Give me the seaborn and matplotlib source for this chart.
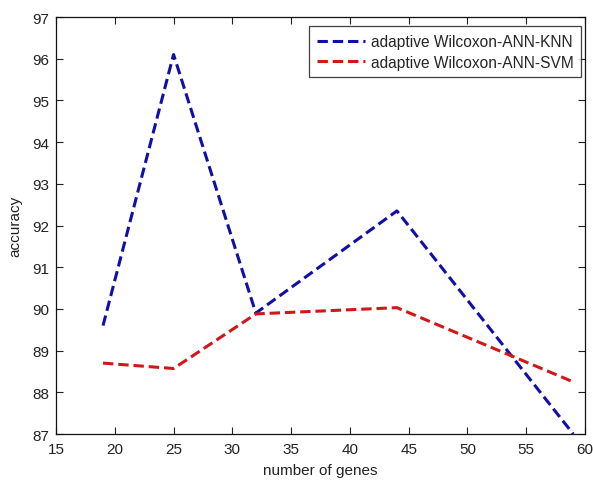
import matplotlib
matplotlib.use("Agg")
import matplotlib.pyplot as plt
import seaborn as sns
import pandas as pd

# gene counts and accuracies for each classifier
genes = [19, 25, 32, 44, 59]
acc_knn = [89.6, 96.1, 89.9, 92.35, 87.0]
acc_svm = [88.7, 88.57, 89.88, 90.03, 88.25]
labels = ["adaptive Wilcoxon-ANN-KNN", "adaptive Wilcoxon-ANN-SVM"]
xticks = [15, 20, 25, 30, 35, 40, 45, 50, 55, 60]
yticks = [87, 88, 89, 90, 91, 92, 93, 94, 95, 96, 97]

df = pd.DataFrame({
    "genes": genes * 2,
    "accuracy": acc_knn + acc_svm,
    "method": [labels[0]] * len(genes) + [labels[1]] * len(genes),
})

sns.set_style("ticks")
plt.rcParams["font.family"] = ["Liberation Sans", "DejaVu Sans"]

fig = plt.figure(figsize=(5.93, 4.81), dpi=100)
ax = fig.add_axes([56 / 593, 1 - 435 / 481, (585 - 56) / 593, (435 - 18) / 481])

palette = {labels[0]: "#1010a8", labels[1]: "#d01818"}
sns.lineplot(data=df, x="genes", y="accuracy", hue="method", palette=palette,
             linewidth=2.2, ax=ax, legend=False)
for line in ax.lines:
    line.set_dashes((3.4, 1.6))

ax.set_xlim(15, 60)
ax.set_ylim(87, 97)
ax.set_xticks(xticks)
ax.set_yticks(yticks)
ax.tick_params(direction="in", length=5, width=0.8, top=True, right=True,
               labelsize=11, colors="#222222")
ax.tick_params(axis="x", pad=5.5)
ax.tick_params(axis="y", pad=5)
for s in ax.spines.values():
    s.set_visible(True)
    s.set_linewidth(0.9)
    s.set_color("#111111")
ax.set_xlabel("number of genes", fontsize=11, color="#222222", labelpad=5)
ax.set_ylabel("accuracy", fontsize=11, color="#222222", labelpad=7)

leg = ax.legend(handles=ax.lines, labels=labels, loc="upper right",
                bbox_to_anchor=(0.9985, 0.985), fontsize=11.2, frameon=True,
                fancybox=False, borderpad=0.5, labelspacing=0.35,
                handlelength=3.1, handletextpad=0.35, borderaxespad=0.2)
leg.get_frame().set_edgecolor("#111111")
leg.get_frame().set_linewidth(0.9)

fig.savefig("out.png", dpi=100, facecolor="white")
